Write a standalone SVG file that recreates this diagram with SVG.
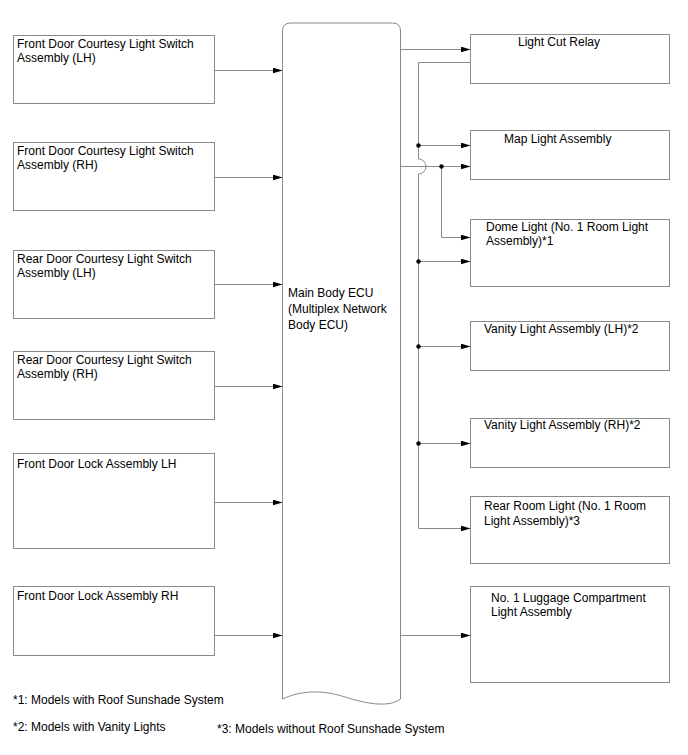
<svg xmlns="http://www.w3.org/2000/svg" width="688" height="755" viewBox="0 0 688 755">
<defs>
<marker id="arr" viewBox="0 0 10 6" refX="10" refY="3" markerWidth="10" markerHeight="6" orient="auto" markerUnits="userSpaceOnUse">
<path d="M0,0 L10,3 L0,6 z" fill="#000"/>
</marker>
<style>
.box{fill:#fff;stroke:#8a8a8a;stroke-width:1}
.ln{fill:none;stroke:#8a8a8a;stroke-width:1}
.ar{marker-end:url(#arr)}
.t{font-family:"Liberation Sans",Arial,sans-serif;font-size:12px;fill:#000}
.dot{fill:#000}
</style>
</defs>
<rect width="688" height="755" fill="#fff"/>

<g id="ecu">
<path class="box" d="M282.5,699 V31 Q282.5,23 290.5,23 H392.5 Q400.5,23 400.5,31 V699 C390,707 370,705 345,697 C320,689 300,691 282.5,699 Z"/>
<text class="t" x="288" y="297">Main Body ECU</text>
<text class="t" x="288" y="313">(Multiplex Network</text>
<text class="t" x="288" y="329">Body ECU)</text>
</g>

<g id="fdcl-lh"><rect class="box" x="13.5" y="35.5" width="201" height="68"/>
<text class="t" x="17" y="47.5">Front Door Courtesy Light Switch</text><text class="t" x="17" y="62">Assembly (LH)</text></g>
<g id="fdcl-rh"><rect class="box" x="13.5" y="142.5" width="201" height="68"/>
<text class="t" x="17" y="154.5">Front Door Courtesy Light Switch</text><text class="t" x="17" y="169">Assembly (RH)</text></g>
<g id="rdcl-lh"><rect class="box" x="13.5" y="250.5" width="201" height="68"/>
<text class="t" x="17" y="262.5">Rear Door Courtesy Light Switch</text><text class="t" x="17" y="277">Assembly (LH)</text></g>
<g id="rdcl-rh"><rect class="box" x="13.5" y="351.5" width="201" height="68"/>
<text class="t" x="17" y="363.5">Rear Door Courtesy Light Switch</text><text class="t" x="17" y="378">Assembly (RH)</text></g>
<g id="fdl-lh"><rect class="box" x="13.5" y="453.5" width="201" height="95"/>
<text class="t" x="17" y="468">Front Door Lock Assembly LH</text></g>
<g id="fdl-rh"><rect class="box" x="13.5" y="586.5" width="201" height="69"/>
<text class="t" x="17" y="599.5">Front Door Lock Assembly RH</text></g>

<g id="lcr"><rect class="box" x="470.5" y="34.5" width="199" height="49"/>
<text class="t" x="518" y="46">Light Cut Relay</text></g>
<g id="map"><rect class="box" x="470.5" y="130.5" width="199" height="49"/>
<text class="t" x="504" y="142.5">Map Light Assembly</text></g>
<g id="dome"><rect class="box" x="470.5" y="219.5" width="199" height="67"/>
<text class="t" x="486" y="230.5">Dome Light (No. 1 Room Light</text><text class="t" x="486" y="245">Assembly)*1</text></g>
<g id="vlh"><rect class="box" x="470.5" y="321.5" width="199" height="49"/>
<text class="t" x="484" y="332.5">Vanity Light Assembly (LH)*2</text></g>
<g id="vrh"><rect class="box" x="470.5" y="418.5" width="199" height="49"/>
<text class="t" x="484" y="429">Vanity Light Assembly (RH)*2</text></g>
<g id="rear"><rect class="box" x="470.5" y="496.5" width="199" height="67"/>
<text class="t" x="484" y="510">Rear Room Light (No. 1 Room</text><text class="t" x="484" y="524.5">Light Assembly)*3</text></g>
<g id="lug"><rect class="box" x="470.5" y="586.5" width="199" height="96"/>
<text class="t" x="491" y="602">No. 1 Luggage Compartment</text><text class="t" x="491" y="616">Light Assembly</text></g>

<g id="connectors">
<path class="ln ar" d="M214.5,70.5 H282.5"/>
<path class="ln ar" d="M214.5,177.5 H282.5"/>
<path class="ln ar" d="M214.5,284.5 H282.5"/>
<path class="ln ar" d="M214.5,386.5 H282.5"/>
<path class="ln ar" d="M214.5,502.5 H282.5"/>
<path class="ln ar" d="M214.5,635.5 H282.5"/>
<path class="ln ar" d="M400.5,49.5 H470.5"/>
<path class="ln ar" d="M470.5,62.5 H418.5 V159 A7.5,7.5 0 0 1 418.5,174 V528.5 H470.5"/>
<path class="ln ar" d="M418.5,145.5 H470.5"/>
<path class="ln ar" d="M400.5,166.5 H470.5"/>
<path class="ln ar" d="M441.5,166.5 V237.5 H470.5"/>
<path class="ln ar" d="M418.5,261.5 H470.5"/>
<path class="ln ar" d="M418.5,346.5 H470.5"/>
<path class="ln ar" d="M418.5,443.5 H470.5"/>
<path class="ln ar" d="M400.5,635.5 H470.5"/>
<circle class="dot" cx="418.5" cy="145.5" r="2.2"/>
<circle class="dot" cx="441.5" cy="166.5" r="2.2"/>
<circle class="dot" cx="418.5" cy="261.5" r="2.2"/>
<circle class="dot" cx="418.5" cy="346.5" r="2.2"/>
<circle class="dot" cx="418.5" cy="443.5" r="2.2"/>
</g>

<g id="notes">
<text class="t" x="13" y="703.5">*1: Models with Roof Sunshade System</text>
<text class="t" x="13" y="731">*2: Models with Vanity Lights</text>
<text class="t" x="217" y="733">*3: Models without Roof Sunshade System</text>
</g>
</svg>
